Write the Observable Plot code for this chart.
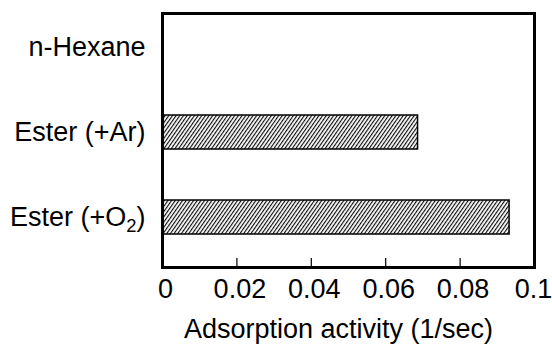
<!DOCTYPE html>
<html>
<head>
<meta charset="utf-8">
<script src="https://cdn.jsdelivr.net/npm/d3@7"></script>
<script src="https://cdn.jsdelivr.net/npm/@observablehq/plot@0.6"></script>
<style>
  html, body { margin: 0; padding: 0; background: #fff; }
</style>
</head>
<body>
<div id="chart"></div>
<script>
const categories = ["n-Hexane", "Ester (+Ar)", "Ester (+O2)"];
const values = [0, 0.0687, 0.0933];
const xTicks = [0, 0.02, 0.04, 0.06, 0.08, 0.1];
const innerTicks = [0.02, 0.04, 0.06, 0.08];
const xTitle = "Adsorption activity (1/sec)";

const data = categories.map((c, i) => ({category: c, value: values[i]}));

const chart = Plot.plot({
  width: 552,
  height: 344,
  marginLeft: 162,
  marginRight: 18,
  marginTop: 13,
  marginBottom: 77,
  style: {fontFamily: "'Liberation Sans', Arial, sans-serif", fontSize: "27px", background: "#fff", color: "#000"},
  x: {domain: [0, 0.1]},
  y: {type: "band", domain: categories, range: [4.5, 259.5], paddingInner: 0.6, paddingOuter: 0.3, align: 0.5},
  marks: [
    Plot.barX(data.filter(d => d.value > 0), {x: "value", y: "category", fill: "url(#hatch)", stroke: "#000", strokeWidth: 1.5}),
    Plot.ruleX(innerTicks, {x: d => d, stroke: "#000", strokeWidth: 1.2, insetTop: 245}),
    Plot.frame({stroke: "#000", strokeWidth: 3}),
    Plot.axisX({ticks: xTicks, tickSize: 0, tickPadding: 11, tickFormat: d => String(+d.toFixed(2)), fontSize: 27, label: xTitle, labelAnchor: "center", labelOffset: 70, labelArrow: "none"}),
    Plot.axisY({tickSize: 0, tickPadding: 17, fontSize: 27, label: null})
  ]
});

const ns = "http://www.w3.org/2000/svg";
const svg = chart.tagName.toLowerCase() === "svg" ? chart : chart.querySelector("svg");
const defs = document.createElementNS(ns, "defs");
const pat = document.createElementNS(ns, "pattern");
pat.setAttribute("id", "hatch");
pat.setAttribute("patternUnits", "userSpaceOnUse");
pat.setAttribute("width", "3");
pat.setAttribute("height", "8");
pat.setAttribute("patternTransform", "rotate(35)");
const bg = document.createElementNS(ns, "rect");
bg.setAttribute("width", "3"); bg.setAttribute("height", "8"); bg.setAttribute("fill", "#fff");
const ln = document.createElementNS(ns, "line");
ln.setAttribute("x1", "0.6"); ln.setAttribute("y1", "0"); ln.setAttribute("x2", "0.6"); ln.setAttribute("y2", "8");
ln.setAttribute("stroke", "#000"); ln.setAttribute("stroke-width", "1.1");
pat.appendChild(bg); pat.appendChild(ln);
defs.appendChild(pat);
svg.insertBefore(defs, svg.firstChild);

// subscript in O2 label
svg.querySelectorAll("text").forEach(t => {
  if (t.textContent === "Ester (+O2)") {
    while (t.firstChild) t.removeChild(t.firstChild);
    t.appendChild(document.createTextNode("Ester (+O"));
    const s = document.createElementNS(ns, "tspan");
    s.setAttribute("dy", "0.3em");
    s.setAttribute("font-size", "0.68em");
    s.textContent = "2";
    t.appendChild(s);
    const r = document.createElementNS(ns, "tspan");
    r.setAttribute("dy", "-0.2em");
    r.textContent = ")";
    t.appendChild(r);
  }
});

// small horizontal nudges to match the reference typesetting
const lbl = svg.querySelector('g[aria-label="x-axis label"]');
if (lbl) lbl.setAttribute("transform", ((lbl.getAttribute("transform") || "") + " translate(-10,0)").trim());
const tl = svg.querySelector('g[aria-label="x-axis tick label"]');
if (tl) {
  tl.querySelectorAll("text").forEach(t => {
    if (t.textContent !== "0.1") t.setAttribute("dx", "3");
    else t.setAttribute("dx", "-1");
  });
}

document.getElementById("chart").appendChild(chart);
</script>
</body>
</html>
